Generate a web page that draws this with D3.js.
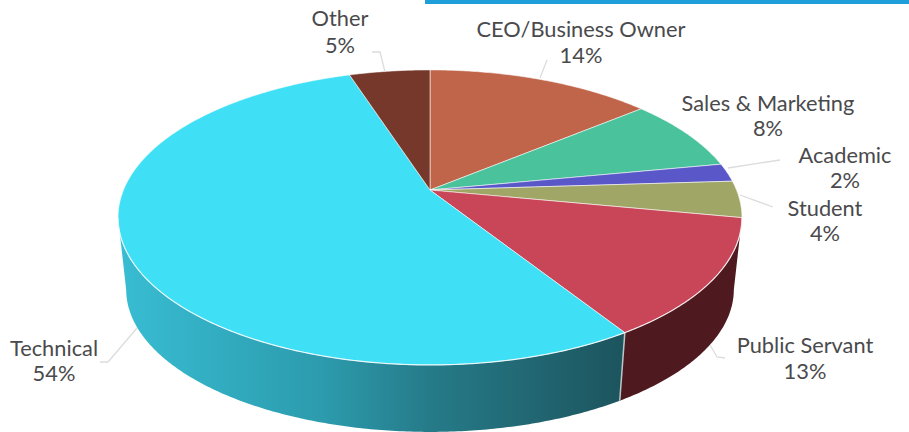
<!DOCTYPE html>
<html>
<head>
<meta charset="utf-8">
<script src="https://cdn.jsdelivr.net/npm/d3@7"></script>
<style>
  html, body { margin: 0; padding: 0; background: #fff; overflow: hidden; }
  text { font-family: Lato, "Open Sans", sans-serif; fill: #4a4a4c; font-size: 21.8px; }
</style>
</head>
<body>
<svg id="chart" width="909" height="432"></svg>
<script>
// Job roles, clockwise from twelve o'clock
const roles = ["CEO/Business Owner", "Sales & Marketing", "Academic", "Student", "Public Servant", "Technical", "Other"];
const shares = [14, 8, 2, 4, 13, 54, 5];
const topColors = ["#c0644a", "#4ac29c", "#5a58c8", "#a0a665", "#c94558", "#3fe0f5", "#75382a"];

// Label placement and leader lines, in slice order
const labelAnchors = [[581, 37, 63], [768, 111, 136], [845, 163, 188], [825, 216, 241], [805, 353, 379], [54, 356, 381], [340, 26, 53]];
const leaderPaths = [
  [[547, 60], [540, 78]],
  null,
  [[780, 160], [728, 168]],
  [[773, 207], [740, 195]],
  [[725, 358], [717, 357], [710, 345]],
  [[100, 362], [108, 362], [137, 328]],
  [[372, 52], [380, 52], [385, 72]]
];

const svg = d3.select("#chart");

// The tilted disc: a circle under a perspective map, hub off the ellipse centre
const hub = { x: 430, y: 190 };
const tilt = -0.186, spanX = 306.5, spanY = 142.4;
function rim(angle, radius = 1) {
  const u = Math.sin(angle) * radius, v = -Math.cos(angle) * radius;
  const w = 1 + tilt * v;
  return [hub.x + spanX * u / w, hub.y + spanY * v / w];
}
// Lower rim of the disc, slightly narrower and lower than the upper one
function lowerRim(angle) {
  const [x, y] = rim(angle);
  return [hub.x + (x - hub.x) * 0.974, 289 + (y - 217) * 0.966];
}

const pie = d3.pie().sort(null).startAngle(0).endAngle(2 * Math.PI);
const slices = pie(shares);
const line = d3.line();

function arcSamples(a0, a1, fn) {
  const n = Math.max(2, Math.ceil(Math.abs(a1 - a0) / 0.01));
  return d3.range(n + 1).map(i => fn(a0 + (a1 - a0) * i / n));
}

// Header band cut off at the top edge
svg.append("rect").attr("x", 425).attr("y", 0).attr("width", 484).attr("height", 4).attr("fill", "#1f9fd9");

const defs = svg.append("defs");
const wallShade = defs.append("linearGradient").attr("id", "wall-technical")
  .attr("gradientUnits", "userSpaceOnUse").attr("x1", 118).attr("x2", 630).attr("y1", 0).attr("y2", 0);
[[0, "#38bdd3"], [0.4, "#2c9bad"], [0.6, "#267c8a"], [1, "#1c535c"]].forEach(([o, c]) =>
  wallShade.append("stop").attr("offset", o).attr("stop-color", c));

// Visible wall: only the front of the disc, from the right extreme round to the left
const frontStart = Math.PI * 0.56, frontEnd = Math.PI * 1.44;
const walls = svg.append("g");
slices.forEach((s, i) => {
  const a0 = Math.max(s.startAngle, frontStart), a1 = Math.min(s.endAngle, frontEnd);
  if (a1 <= a0) return;
  const upper = arcSamples(a0, a1, rim);
  const lower = arcSamples(a1, a0, lowerRim);
  walls.append("path")
    .attr("d", line(upper.concat(lower)) + "Z")
    .attr("fill", roles[i] === "Technical" ? "url(#wall-technical)" : "#4f1a1f");
});
// Pale seam where the two walls meet
const seamAngle = slices[4].endAngle;
walls.append("path").attr("d", line([rim(seamAngle), lowerRim(seamAngle)]))
  .attr("stroke", "#b9c7ca").attr("stroke-width", 1.5).attr("fill", "none");

// Top face
const faces = svg.append("g");
slices.forEach((s, i) => {
  const outline = [[hub.x, hub.y]].concat(arcSamples(s.startAngle, s.endAngle, rim));
  faces.append("path")
    .attr("d", line(outline) + "Z")
    .attr("fill", topColors[i])
    .attr("stroke", "#ffffff").attr("stroke-opacity", 0.55).attr("stroke-width", 1)
    .attr("stroke-linejoin", "round");
});

// Highlight along the front edge of the top face
svg.append("path")
  .attr("d", line(arcSamples(frontStart, frontEnd, rim)))
  .attr("fill", "none").attr("stroke", "#ffffff").attr("stroke-opacity", 0.7).attr("stroke-width", 1.2);

// Leader lines
svg.append("g").selectAll("path")
  .data(leaderPaths.filter(Boolean))
  .join("path")
  .attr("d", d => line(d))
  .attr("fill", "none").attr("stroke", "#dcdcdf").attr("stroke-width", 1.3);

// Two-line labels
const labels = svg.append("g").selectAll("text")
  .data(roles.map((r, i) => ({ role: r, share: shares[i], at: labelAnchors[i] })))
  .join("text").attr("text-anchor", "middle");
labels.append("tspan").attr("x", d => d.at[0]).attr("y", d => d.at[1]).text(d => d.role);
labels.append("tspan").attr("x", d => d.at[0]).attr("y", d => d.at[2]).text(d => d.share + "%");
</script>
</body>
</html>
